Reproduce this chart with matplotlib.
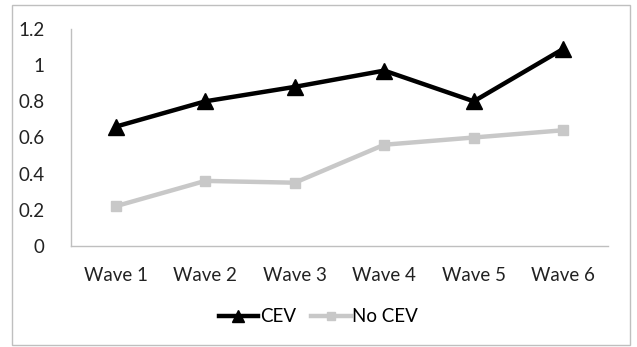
import matplotlib
matplotlib.use("Agg")
import matplotlib.pyplot as plt
from matplotlib.patches import Rectangle
from matplotlib.ticker import FixedLocator

waves = ["Wave 1", "Wave 2", "Wave 3", "Wave 4", "Wave 5", "Wave 6"]
cev = [0.66, 0.80, 0.88, 0.97, 0.80, 1.09]
no_cev = [0.22, 0.36, 0.35, 0.56, 0.60, 0.64]
y_ticks = [0, 0.2, 0.4, 0.6, 0.8, 1.0, 1.2]
y_labels = ["0", "0.2", "0.4", "0.6", "0.8", "1", "1.2"]

plt.rcParams["font.family"] = ["Lato", "DejaVu Sans"]

W, H = 637, 347
fig = plt.figure(figsize=(W / 100, H / 100), dpi=100)
ax = fig.add_axes([71 / W, 1 - 246 / H, (608 - 71) / W, (246 - 29) / H])

x = list(range(len(waves)))
ax.plot(x, no_cev, color="#c8c8c8", lw=3.2, marker="s", ms=7, label="No CEV", zorder=2)
ax.plot(x, cev, color="black", lw=3.2, marker="^", ms=12, label="CEV", zorder=3)

ax.set_xlim(-0.5, len(waves) - 0.5)
ax.set_ylim(0, 1.2)
ax.set_xticks(x)
ax.set_xticklabels(waves, fontsize=13.5, color="#222222")
ax.yaxis.set_major_locator(FixedLocator(y_ticks))
ax.set_yticklabels(y_labels, fontsize=13.5, color="#222222")
ax.tick_params(axis="both", length=0)
ax.tick_params(axis="x", pad=15)
ax.tick_params(axis="y", pad=19)
for s in ["top", "right"]:
    ax.spines[s].set_visible(False)
for s in ["left", "bottom"]:
    ax.spines[s].set_color("#bfbfbf")
    ax.spines[s].set_linewidth(1)

handles, labels = ax.get_legend_handles_labels()
leg = fig.legend(handles[::-1], labels[::-1], loc="center", bbox_to_anchor=(0.5, 1 - 317 / H),
                 ncol=2, frameon=False, fontsize=13.5, handlelength=2.1, handletextpad=0.1,
                 columnspacing=0.8)
for h in leg.legend_handles:
    h.set_markersize(h.get_markersize() * 0.75)

fig.patches.append(Rectangle((12 / W, 1 - 345 / H), (630 - 12) / W, (345 - 5) / H,
                             transform=fig.transFigure, fill=False, edgecolor="#bfbfbf", lw=1))

fig.savefig("out.png", dpi=100)
